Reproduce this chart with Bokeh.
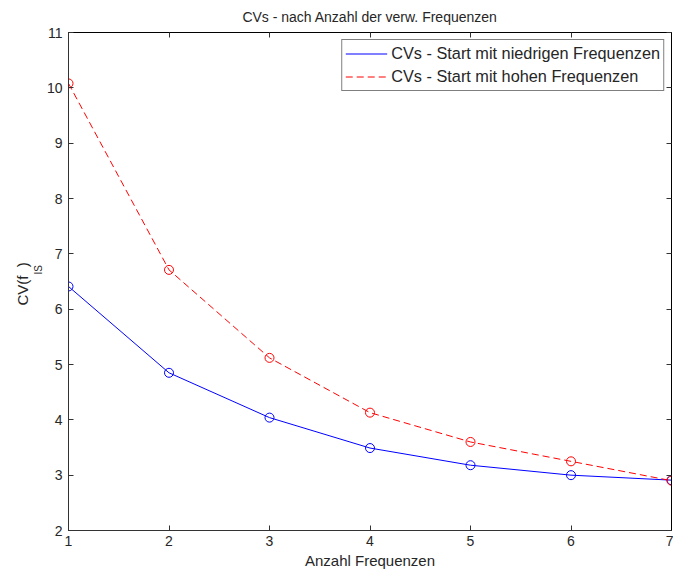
import math
from bokeh.plotting import figure
from bokeh.models import LinearAxis, Title, Legend, LegendItem, FixedTicker, Range1d
from bokeh.embed import file_html
from bokeh.resources import INLINE

anzahl = [1, 2, 3, 4, 5, 6, 7]
cv_niedrig = [6.41, 4.85, 4.04, 3.49, 3.18, 3.00, 2.91]
cv_hoch = [10.08, 6.71, 5.12, 4.13, 3.60, 3.25, 2.90]
x_ticks = [1, 2, 3, 4, 5, 6, 7]
y_ticks = [2, 3, 4, 5, 6, 7, 8, 9, 10, 11]

FONT = "Liberation Sans"
TXT = "#262626"

p = figure(width=673, height=578, output_backend="svg", toolbar_location=None,
           x_range=Range1d(1, 7), y_range=Range1d(2, 11),
           min_border_left=68, min_border_right=2, min_border_top=32, min_border_bottom=48,
           title="CVs - nach Anzahl der verw. Frequenzen")
p.title.align = "center"
p.title.text_font = FONT
p.title.text_font_size = "14px"
p.title.text_font_style = "normal"
p.title.text_color = TXT
p.title.offset = 0
p.title.standoff = 12
p.title.vertical_align = "top"
p.title.text_line_height = 0.8
p.grid.visible = False
p.outline_line_color = "black"
p.background_fill_color = "white"
p.border_fill_color = "white"

for ax in (p.xaxis[0], p.yaxis[0]):
    ax.major_tick_in = 5
    ax.major_tick_out = 0
    ax.minor_tick_in = 0
    ax.minor_tick_out = 0
    ax.axis_line_color = "#333333"
    ax.major_tick_line_color = "#333333"
    ax.major_label_text_font = FONT
    ax.major_label_text_font_size = "14px"
    ax.major_label_text_color = TXT
p.xaxis[0].ticker = FixedTicker(ticks=x_ticks)
p.yaxis[0].ticker = FixedTicker(ticks=y_ticks)
p.xaxis[0].axis_label = "Anzahl Frequenzen"
p.xaxis[0].axis_label_text_font = FONT
p.xaxis[0].axis_label_text_font_size = "15px"
p.xaxis[0].axis_label_text_font_style = "normal"
p.xaxis[0].axis_label_text_color = TXT
p.xaxis[0].axis_label_standoff = 3
p.xaxis[0].major_label_standoff = 5
p.yaxis[0].major_label_standoff = 6

top = LinearAxis(ticker=FixedTicker(ticks=x_ticks), major_label_text_font_size="0px",
                 major_tick_in=5, major_tick_out=0, minor_tick_in=0, minor_tick_out=0,
                 axis_line_color="black", major_tick_line_color="#333333")
right = LinearAxis(ticker=FixedTicker(ticks=y_ticks), major_label_text_font_size="0px",
                   major_tick_in=5, major_tick_out=0, minor_tick_in=0, minor_tick_out=0,
                   axis_line_color="black", major_tick_line_color="#333333")
p.add_layout(top, "above")
p.add_layout(right, "right")

l1 = p.line(anzahl, cv_niedrig, line_color="#0000ff", line_width=1)
p.scatter(anzahl, cv_niedrig, marker="circle", size=9, fill_color=None, line_color="#0000ff")
l2 = p.line(anzahl, cv_hoch, line_color="#ff0000", line_width=1, line_dash="7 4")
p.scatter(anzahl, cv_hoch, marker="circle", size=9, fill_color=None, line_color="#ff0000")

legend = Legend(items=[LegendItem(label="CVs - Start mit niedrigen Frequenzen", renderers=[l1]),
                       LegendItem(label="CVs - Start mit hohen Frequenzen", renderers=[l2])],
                location="top_right", label_text_font=FONT, label_text_font_size="16.3px",
                label_text_color=TXT, border_line_color="black", border_line_width=1,
                glyph_width=42, glyph_height=21, label_standoff=4, spacing=2, padding=3,
                margin=7, label_height=21)
p.add_layout(legend, "center")

# y label "CV(f_IS)": subscript in an inner left title, main text in an outer one
sub = Title(text="IS", align="left", offset=256, text_font=FONT, text_font_size="10px",
            text_font_style="normal", text_color=TXT, standoff=0)
main = Title(text="CV(f\u00a0\u00a0)", align="left", offset=225, text_font=FONT,
             text_font_size="15px", text_font_style="normal", text_color=TXT, standoff=0)
p.add_layout(sub, "left")
p.add_layout(main, "left")

open("out.html", "w").write(file_html(p, INLINE))
